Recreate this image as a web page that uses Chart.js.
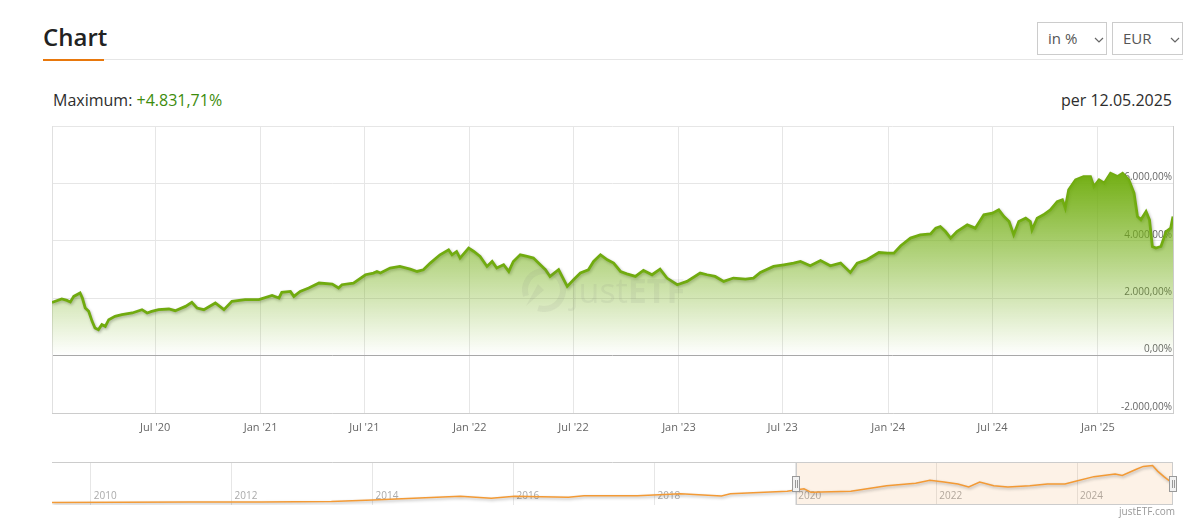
<!DOCTYPE html>
<html>
<head>
<meta charset="utf-8">
<title>Chart</title>
<script src="https://cdn.jsdelivr.net/npm/chart.js@4.4.1/dist/chart.umd.min.js"></script>
<style>
  body { margin: 0; background: #fff; font-family: 'Open Sans', sans-serif; color: #333; }
  #page { position: relative; width: 1198px; height: 522px; overflow: hidden; }
  .title { position: absolute; left: 43px; top: 21px; font-size: 24px; line-height: 32px; font-weight: 600; color: #222; }
  .title-bar { position: absolute; left: 43px; top: 59px; width: 61px; height: 2px; background: #e8780c; }
  .rule { position: absolute; left: 104px; top: 59px; width: 1079px; height: 1px; background: #e6e6e6; }
  .sel { position: absolute; top: 22px; height: 33px; box-sizing: border-box; border: 1px solid #ccc;
         font-size: 15px; line-height: 31px; color: #555; padding-left: 10px; }
  .sel svg { position: absolute; top: 14px; }
  .info { position: absolute; top: 89px; font-size: 16px; line-height: 22px; color: #2d2d2d; }
  .info .up { color: #3d8c0c; }
  .credit { position: absolute; right: 23px; top: 504px; font-size: 10px; line-height: 14px; color: #999; }
  #mainWrap { position: absolute; left: 0; top: 116px; }
  #navWrap { position: absolute; left: 0; top: 450px; }
</style>
</head>
<body>
<div id="page">
  <div class="title">Chart</div>
  <div class="title-bar"></div>
  <div class="rule"></div>

  <div class="sel" style="left:1037px;width:70px;">in %
    <svg style="left:56px" width="10" height="6"><polyline points="1,1 5,5 9,1" fill="none" stroke="#666" stroke-width="1.2"/></svg>
  </div>
  <div class="sel" style="left:1112px;width:71px;">EUR
    <svg style="left:57px" width="10" height="6"><polyline points="1,1 5,5 9,1" fill="none" stroke="#666" stroke-width="1.2"/></svg>
  </div>

  <div class="info" style="left:53px;">Maximum: <span class="up">+4.831,71%</span></div>
  <div class="info" style="right:26px;">per 12.05.2025</div>

  <div id="mainWrap"><canvas id="mainChart" width="1198" height="330"></canvas></div>
  <div id="navWrap"><canvas id="navChart" width="1198" height="62"></canvas></div>
  <div class="credit">justETF.com</div>
</div>

<script>
// main chart: performance in %, Jan 2020 - May 2025
const mainDates = [
  '2020-01-03','2020-01-20','2020-01-29','2020-02-04','2020-02-10','2020-02-21','2020-02-25','2020-03-01','2020-03-07','2020-03-13',
  '2020-03-18','2020-03-24','2020-03-30','2020-04-05','2020-04-11','2020-04-22','2020-05-04','2020-05-22','2020-06-08','2020-06-17',
  '2020-06-25','2020-07-07','2020-07-25','2020-08-05','2020-08-23','2020-09-03','2020-09-12','2020-09-24','2020-10-14','2020-10-29',
  '2020-11-12','2020-12-05','2020-12-29',
  '2021-01-21','2021-02-02','2021-02-07','2021-02-22','2021-02-28','2021-03-11','2021-03-26','2021-04-13','2021-05-06','2021-05-17',
  '2021-05-23','2021-06-12','2021-07-03','2021-07-17','2021-07-23','2021-07-29','2021-08-15','2021-09-01','2021-09-19','2021-10-01',
  '2021-10-12','2021-10-24','2021-11-10','2021-11-25','2021-12-01','2021-12-09','2021-12-15','2021-12-30',
  '2022-01-08','2022-01-19','2022-01-31','2022-02-09','2022-02-17','2022-03-01','2022-03-10','2022-03-18','2022-03-30','2022-04-11',
  '2022-04-22','2022-05-04','2022-05-13','2022-05-21','2022-06-05','2022-06-20','2022-07-01','2022-07-13','2022-07-27','2022-08-05',
  '2022-08-17','2022-08-29','2022-09-09','2022-09-21','2022-10-02','2022-10-17','2022-10-31','2022-11-15','2022-11-29','2022-12-11',
  '2022-12-29',
  '2023-01-15','2023-02-07','2023-02-19','2023-03-05','2023-03-20','2023-04-06','2023-04-27','2023-05-11','2023-05-23','2023-06-15',
  '2023-07-03','2023-07-20','2023-08-01','2023-08-18','2023-09-05','2023-09-22','2023-10-10','2023-10-27','2023-11-08','2023-11-25',
  '2023-12-16','2023-12-31',
  '2024-01-11','2024-01-23','2024-02-09','2024-02-26','2024-03-15','2024-03-24','2024-04-01','2024-04-10','2024-04-19','2024-04-30',
  '2024-05-18','2024-06-01','2024-06-16','2024-07-01','2024-07-12','2024-07-21','2024-07-30','2024-08-07','2024-08-16','2024-08-28',
  '2024-09-05','2024-09-08','2024-09-17','2024-09-28','2024-10-10','2024-10-22','2024-10-31','2024-11-05','2024-11-11','2024-11-23',
  '2024-12-07','2024-12-19','2024-12-25',
  '2025-01-03','2025-01-12','2025-01-23','2025-02-04','2025-02-13','2025-02-24','2025-03-05','2025-03-11','2025-03-17','2025-03-26',
  '2025-04-01','2025-04-06','2025-04-12','2025-04-21','2025-04-30','2025-05-08','2025-05-12'
];
const mainValues = [
  1854,1972,1924,1868,2063,2180,2007,1659,1541,1193,
  963,904,1078,1019,1252,1367,1426,1485,1600,1485,
  1541,1600,1624,1565,1715,1854,1659,1600,1833,1600,
  1889,1948,1948,
  2097,2007,2202,2237,2063,2237,2354,2528,2494,2354,
  2470,2528,2817,2876,2932,2876,3050,3106,3015,2932,
  2991,3224,3513,3687,3513,3628,3398,3746,
  3628,3454,3106,3280,3050,3165,2932,3280,3513,3454,
  3398,3165,2991,2758,2991,2410,2643,2876,2991,3280,
  3513,3339,3224,2932,2850,2758,2967,2817,3015,2702,
  2469,
  2584,2876,2817,2758,2584,2702,2668,2702,2897,3106,
  3165,3224,3280,3130,3315,3130,3224,2897,3224,3339,
  3593,3571,
  3571,3830,4094,4209,4243,4441,4497,4323,4094,4323,
  4556,4441,4904,4963,5078,4845,4671,4209,4671,4789,
  4671,4382,4789,4904,5078,5366,5426,5137,5774,6121,
  6236,6236,5888,
  6121,6006,6354,6236,6354,6121,5659,4845,4730,5019,
  4730,3802,3746,3802,4323,4441,4845
];
const xTickDates = ['2020-07-01','2021-01-01','2021-07-01','2022-01-01','2022-07-01','2023-01-01','2023-07-01','2024-01-01','2024-07-01','2025-01-01'];
const xTickLabels = ["Jul '20","Jan '21","Jul '21","Jan '22","Jul '22","Jan '23","Jul '23","Jan '24","Jul '24","Jan '25"];
const yTickValues = [-2000, 0, 2000, 4000, 6000, 8000];

// navigator: full history
const navDates = [
  '2009-06-14','2010-06-01','2011-06-01','2012-06-01','2013-06-01','2014-01-01','2015-04-01','2015-09-08','2016-01-08','2016-10-12',
  '2017-01-01','2017-10-05','2018-05-16','2018-12-14','2019-01-30','2019-11-20','2020-02-15','2020-03-23','2020-10-15','2021-04-19',
  '2021-09-16','2021-11-29','2022-02-10','2022-04-23','2022-06-18','2022-08-14','2022-10-26','2023-01-07','2023-05-01','2023-07-31',
  '2023-10-30','2023-12-24','2024-03-28','2024-07-16','2024-08-22','2024-11-03','2024-12-09','2025-01-26','2025-02-21','2025-03-26',
  '2025-04-20','2025-05-12'
];
const navValues = [
  0,40,80,60,180,424,1059,706,1059,882,
  1165,1147,1483,1112,1483,1924,2365,1747,1924,2877,
  3318,3812,3512,3177,2683,3512,2877,2683,2877,3177,
  3177,3636,4448,4889,4642,5719,6213,6354,5401,4448,
  3812,4200
];
const navTickDates = ['2010-01-01','2012-01-01','2014-01-01','2016-01-01','2018-01-01','2020-01-01','2022-01-01','2024-01-01'];
const navTickLabels = ['2010','2012','2014','2016','2018','2020','2022','2024'];

function toPoints(dates, values) {
    return dates.map((d, i) => ({ x: Date.parse(d), y: values[i] }));
}

function fmtPct(v) {
    const parts = Math.abs(v).toFixed(2).split('.');
    const whole = parts[0].replace(/\B(?=(\d{3})+(?!\d))/g, '.');
    return (v < 0 ? '-' : '') + whole + ',' + parts[1] + '%';
}

// shadow under lines flagged with shadow: true
const lineShadow = {
    id: 'lineShadow',
    beforeDatasetDraw(chart, args) {
        if (!chart.data.datasets[args.index].shadow) return;
        const c = chart.ctx;
        c.save();
        c.shadowColor = 'rgba(0, 0, 0, 0.3)';
        c.shadowBlur = 3;
        c.shadowOffsetX = 1;
        c.shadowOffsetY = 1.5;
    },
    afterDatasetDraw(chart, args) {
        if (chart.data.datasets[args.index].shadow) chart.ctx.restore();
    }
};

const plotFrame = {
    id: 'plotFrame',
    beforeDatasetsDraw(chart) {
        const { ctx, chartArea: a } = chart;
        ctx.save();
        ctx.strokeStyle = '#e0e0e0';
        ctx.lineWidth = 1;
        ctx.beginPath();
        ctx.moveTo(a.left + 0.5, a.top);
        ctx.lineTo(a.left + 0.5, a.bottom);
        ctx.stroke();
        ctx.restore();
    }
};

// faint justETF logo in the middle of the plot
const watermark = {
    id: 'watermark',
    afterDatasetsDraw(chart) {
        const ctx = chart.ctx;
        ctx.save();
        ctx.fillStyle = 'rgba(110, 110, 110, 0.09)';
        ctx.strokeStyle = 'rgba(110, 110, 110, 0.09)';
        ctx.lineWidth = 6;
        ctx.beginPath();
        ctx.arc(544, 174, 19, 0.9 * Math.PI, 2.6 * Math.PI);
        ctx.stroke();
        ctx.beginPath();
        ctx.moveTo(544, 174);
        ctx.lineTo(526, 190);
        ctx.lineTo(538, 168);
        ctx.closePath();
        ctx.fill();
        ctx.font = '34px "Open Sans"';
        ctx.fillText('just', 570, 187);
        const w = ctx.measureText('just').width;
        ctx.font = 'bold 34px "Open Sans"';
        ctx.fillText('ETF', 570 + w, 187);
        ctx.restore();
    }
};

const mainPoints = toPoints(mainDates, mainValues);
const peakValue = Math.max(...mainValues);

new Chart(document.getElementById('mainChart'), {
    type: 'line',
    data: {
        datasets: [{
            data: mainPoints,
            fill: 'origin',
            borderWidth: 0,
            pointRadius: 0,
            backgroundColor: function (context) {
                const chart = context.chart;
                if (!chart.chartArea) return 'rgba(115,175,20,0.4)';
                const y = chart.scales.y;
                const g = chart.ctx.createLinearGradient(0, y.getPixelForValue(peakValue), 0, y.getPixelForValue(0));
                g.addColorStop(0, 'rgba(115, 175, 20, 1)');
                g.addColorStop(1, 'rgba(115, 175, 20, 0)');
                return g;
            }
        }, {
            data: mainPoints,
            fill: false,
            shadow: true,
            borderColor: '#70aa0e',
            borderWidth: 2.8,
            pointRadius: 0,
            tension: 0
        }]
    },
    options: {
        responsive: false,
        animation: false,
        events: [],
        layout: { padding: { left: 52, right: 25, top: 10, bottom: 0 } },
        plugins: { legend: { display: false }, tooltip: { enabled: false } },
        scales: {
            x: {
                type: 'linear',
                min: Date.parse(mainDates[0]),
                max: Date.parse(mainDates[mainDates.length - 1]),
                afterBuildTicks: scale => { scale.ticks = xTickDates.map(d => ({ value: Date.parse(d) })); },
                afterFit: scale => { scale.height = 33; },
                ticks: {
                    autoSkip: false,
                    maxRotation: 0,
                    padding: 8,
                    color: '#666',
                    font: { family: 'Open Sans', size: 11 },
                    callback: (v, i) => xTickLabels[i]
                },
                grid: { color: '#e6e6e6', drawTicks: false },
                border: { color: '#ccc' }
            },
            y: {
                position: 'right',
                min: -2000,
                max: 8000,
                afterBuildTicks: scale => { scale.ticks = yTickValues.map(v => ({ value: v })); },
                afterFit: scale => { scale.width = 0; },
                ticks: {
                    mirror: true,
                    padding: -1,
                    labelOffset: -6,
                    color: '#666',
                    font: { family: 'Open Sans', size: 10 },
                    callback: v => (v === 8000 ? '' : fmtPct(v))
                },
                grid: {
                    color: ctx => (ctx.tick && ctx.tick.value === 0 ? '#a8a8a8' : '#e6e6e6'),
                    drawTicks: false
                },
                border: { color: '#ccc' }
            }
        }
    },
    plugins: [plotFrame, lineShadow, watermark]
});

// navigator window (selected range) and its handles
const navWindow = {
    id: 'navWindow',
    beforeDatasetsDraw(chart) {
        const { ctx, chartArea: a, scales: { x } } = chart;
        const x0 = Math.round(x.getPixelForValue(Date.parse(mainDates[0]))) + 0.5;
        const x1 = Math.round(x.getPixelForValue(Date.parse(mainDates[mainDates.length - 1]))) - 0.5;
        ctx.save();
        ctx.strokeStyle = '#ccc';
        ctx.lineWidth = 1;
        ctx.beginPath();
        ctx.moveTo(a.left, a.top + 0.5);
        ctx.lineTo(a.right, a.top + 0.5);
        ctx.stroke();
        ctx.fillStyle = 'rgba(242, 150, 60, 0.12)';
        ctx.fillRect(x0, a.top, x1 - x0, a.bottom - a.top);
        ctx.strokeRect(x0, a.top + 0.5, x1 - x0, a.bottom - a.top - 1);
        ctx.restore();
    },
    afterDatasetsDraw(chart) {
        const { ctx, chartArea: a, scales: { x } } = chart;
        const mid = Math.round((a.top + a.bottom) / 2);
        [mainDates[0], mainDates[mainDates.length - 1]].forEach(d => {
            const px = Math.round(x.getPixelForValue(Date.parse(d)));
            ctx.save();
            ctx.fillStyle = '#f2f2f2';
            ctx.strokeStyle = '#999';
            ctx.lineWidth = 1;
            ctx.fillRect(px - 3.5, mid - 7.5, 7, 15);
            ctx.strokeRect(px - 3.5, mid - 7.5, 7, 15);
            ctx.beginPath();
            ctx.moveTo(px - 1 + 0.5, mid - 4);
            ctx.lineTo(px - 1 + 0.5, mid + 4);
            ctx.moveTo(px + 1 + 0.5, mid - 4);
            ctx.lineTo(px + 1 + 0.5, mid + 4);
            ctx.stroke();
            ctx.restore();
        });
    }
};

new Chart(document.getElementById('navChart'), {
    type: 'line',
    data: {
        datasets: [{
            data: toPoints(navDates, navValues),
            fill: false,
            shadow: true,
            borderColor: '#f39a35',
            borderWidth: 1.5,
            pointRadius: 0,
            tension: 0
        }]
    },
    options: {
        responsive: false,
        animation: false,
        events: [],
        layout: { padding: { left: 52, right: 25, top: 12, bottom: 7 } },
        plugins: { legend: { display: false }, tooltip: { enabled: false } },
        scales: {
            x: {
                type: 'linear',
                min: Date.parse(navDates[0]),
                max: Date.parse(navDates[navDates.length - 1]),
                afterBuildTicks: scale => { scale.ticks = navTickDates.map(d => ({ value: Date.parse(d) })); },
                afterFit: scale => { scale.height = 0; },
                ticks: {
                    autoSkip: false,
                    maxRotation: 0,
                    mirror: true,   // draws the labels inside the plot, above the axis
                    align: 'start',
                    labelOffset: 3,
                    padding: 3,
                    color: '#aaa',
                    font: { family: 'Open Sans', size: 10 },
                    callback: (v, i) => navTickLabels[i]
                },
                grid: { color: '#e6e6e6', drawTicks: false },
                border: { display: false }
            },
            y: { display: false, min: -440, max: 6970 }
        }
    },
    plugins: [navWindow, lineShadow]
});
</script>
</body>
</html>
